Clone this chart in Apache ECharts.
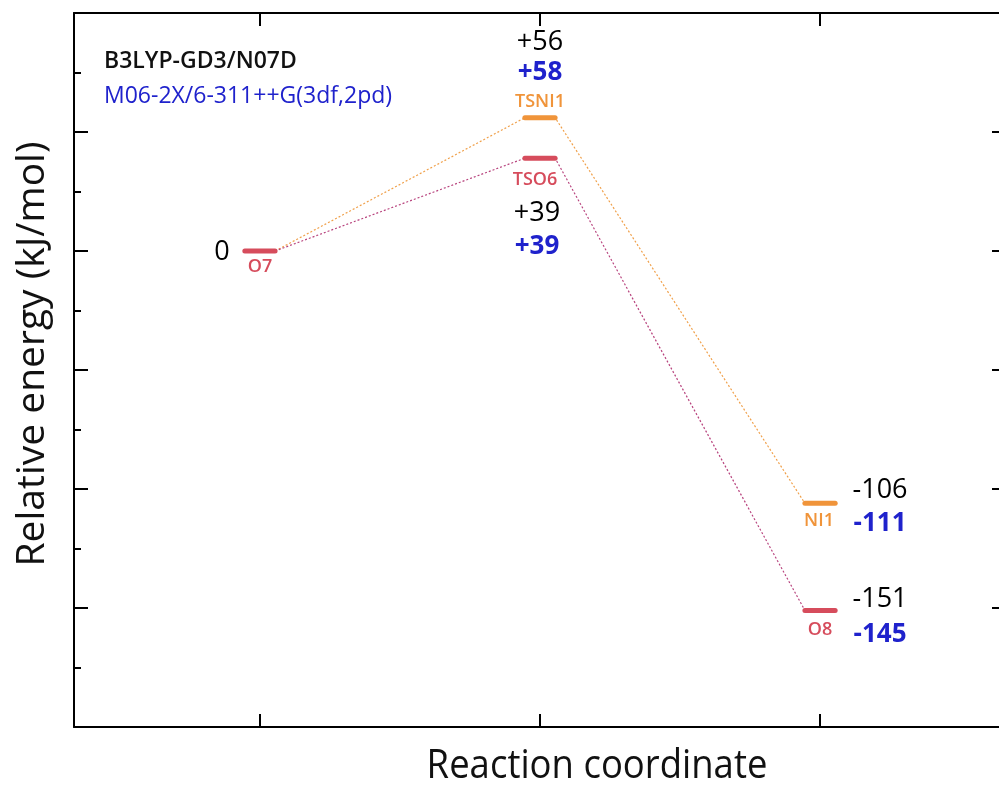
<!DOCTYPE html>
<html><head><meta charset="utf-8">
<script src="https://cdn.jsdelivr.net/npm/echarts@6/dist/echarts.min.js"></script>
<style>html,body{margin:0;padding:0;background:#fff;overflow:hidden;width:999px;height:786px}#c{width:1006px;height:786px}</style>
</head><body><div id="c"></div>
<script>
// ---- data ----
const coordTicks = [1, 2, 3];
const states = ['O7', 'TSNI1', 'TSO6', 'NI1', 'O8'];
const statePos = [1, 2, 2, 3, 3];
const energyB3 = [0, 56, 39, -106, -151];
const energyM06 = [null, 58, 39, -111, -145];
const pathNI = ['O7', 'TSNI1', 'NI1'];
const pathO = ['O7', 'TSO6', 'O8'];
const methodB3 = 'B3LYP-GD3/N07D';
const methodM06 = 'M06-2X/6-311++G(3df,2pd)';
const xTitle = 'Reaction coordinate';
const yTitle = 'Relative energy (kJ/mol)';

// ---- styles ----
const RED = '#d64c5c', ORANGE = '#f0943a', BLUE = '#1f22cc';
const stateColor = { O7: RED, TSNI1: ORANGE, TSO6: RED, NI1: ORANGE, O8: RED };
const pathColor = { NI: '#f0a04a', O: '#b8447e' };
const HW = 0.054; // half width of level bar in axis units
const FONT = 'Open Sans';
const offs = {
  O7:    { name: [0, 16], b3: [-38, 1],  m06: null },
  TSNI1: { name: [0, -16], b3: [0, -75], m06: [0, -45] },
  TSO6:  { name: [-5, 22], b3: [-3, 55], m06: [-3, 88] },
  NI1:   { name: [-1, 18], b3: [60, -13], m06: [60, 20] },
  O8:    { name: [0, 19], b3: [60, -11], m06: [60, 24] }
};

const idx = n => states.indexOf(n);
const fmt = v => v === 0 ? '0' : (v > 0 ? '+' + v : '' + v);

const series = [];
function pathPoints(path) {
  const pts = [];
  path.forEach((n, k) => {
    const i = idx(n);
    if (k > 0) pts.push([statePos[i] - HW, energyB3[i]]);
    if (k < path.length - 1) pts.push([statePos[i] + HW, energyB3[i]]);
  });
  return pts;
}
series.push({ type: 'line', data: pathPoints(pathNI), symbol: 'none', silent: true, z: 2,
  lineStyle: { color: pathColor.NI, width: 1.2, type: [2, 2] } });
series.push({ type: 'line', data: pathPoints(pathO), symbol: 'none', silent: true, z: 2,
  lineStyle: { color: pathColor.O, width: 1.2, type: [2, 2] } });
states.forEach((n, i) => {
  series.push({ type: 'line', symbol: 'none', silent: true, z: 3,
    data: [[statePos[i] - HW, energyB3[i]], [statePos[i] + HW, energyB3[i]]],
    lineStyle: { color: stateColor[n], width: 5, cap: 'round' } });
});
// labels
const nameData = states.map((n, i) => ({ value: [statePos[i], energyB3[i]],
  label: { formatter: n, color: stateColor[n], offset: offs[n].name } }));
const b3Data = states.map((n, i) => ({ value: [statePos[i], energyB3[i]],
  label: { formatter: fmt(energyB3[i]), offset: offs[n].b3 } }));
const m06Data = states.map((n, i) => energyM06[i] === null ? null : ({ value: [statePos[i], energyB3[i]],
  label: { formatter: fmt(energyM06[i]), offset: offs[n].m06 } })).filter(d => d);
const lblBase = { show: true, position: 'inside', align: 'center', verticalAlign: 'middle', fontFamily: FONT, opacity: 1 };
const scatterBase = { type: 'scatter', symbolSize: 0, silent: true, z: 5, itemStyle: { opacity: 1 } };
series.push(Object.assign({}, scatterBase, { data: nameData,
  label: Object.assign({}, lblBase, { fontSize: 18, fontWeight: 600 }) }));
series.push(Object.assign({}, scatterBase, { data: b3Data,
  label: Object.assign({}, lblBase, { fontSize: 27, fontWeight: 500, color: '#000' }) }));
series.push(Object.assign({}, scatterBase, { data: m06Data,
  label: Object.assign({}, lblBase, { fontSize: 26, fontWeight: 700, color: BLUE }) }));

const axLine = { show: true, onZero: false, lineStyle: { color: '#000', width: 2 } };
const xBase = { type: 'value', min: 0.336, max: 3.664, splitLine: { show: false }, axisLine: axLine,
  axisTick: { show: true, inside: true, length: 13, lineStyle: { width: 2, color: '#000' }, customValues: coordTicks },
  axisLabel: { show: false } };
const yBase = { type: 'value', min: -200, max: 100, interval: 50, splitLine: { show: false }, axisLine: axLine,
  axisTick: { show: true, inside: true, length: 14, lineStyle: { width: 2, color: '#000' } },
  minorTick: { show: true, splitNumber: 2, length: 7, lineStyle: { width: 2, color: '#000' } },
  axisLabel: { show: false } };

const option = {
  animation: false,
  backgroundColor: '#fff',
  grid: { left: 74, right: 0, top: 13, bottom: 59 },
  title: [
    { text: methodB3, left: 99, top: 45, textStyle: { fontFamily: FONT, fontSize: 23, fontWeight: 600, color: '#111' } },
    { text: methodM06, left: 99, top: 80, textStyle: { fontFamily: FONT, fontSize: 23, fontWeight: 500, color: BLUE } }
  ],
  graphic: [
    { type: 'text', x: 597, y: 766, scaleX: 0.89, silent: true,
      style: { text: xTitle, font: '41px "Open Sans"', fill: '#111', align: 'center', verticalAlign: 'middle' } }
  ],
  xAxis: [
    Object.assign({}, xBase, { position: 'bottom' }),
    Object.assign({}, xBase, { position: 'top' })
  ],
  yAxis: [
    Object.assign({}, yBase, { position: 'left', name: yTitle, nameLocation: 'middle', nameGap: 22,
      nameTextStyle: { fontFamily: FONT, fontSize: 39, color: '#111', padding: [0, 0, 0, 32] } }),
    Object.assign({}, yBase, { position: 'right' })
  ],
  series: series
};
const chart = echarts.init(document.getElementById('c'), null, { renderer: 'canvas' });
chart.setOption(option);
</script></body></html>
